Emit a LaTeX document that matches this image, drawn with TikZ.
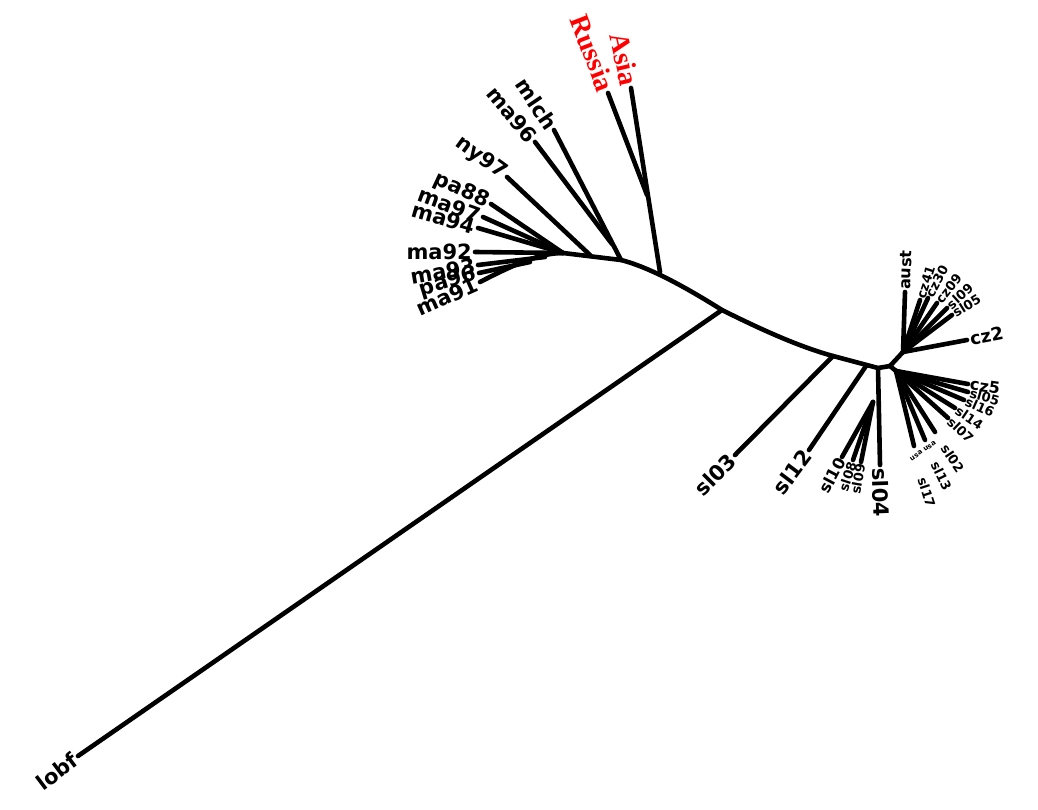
\documentclass[tikz,border=0pt]{standalone}
\usepackage{fontspec}
\usetikzlibrary{calc}
\newfontfamily\labfont{DejaVu Sans}
\newfontfamily\redfont{Liberation Serif}
\begin{document}
\begin{tikzpicture}[x=1pt,y=-1pt,
  br/.style={line width=4.6pt,line cap=round,line join=round},
  lab/.style={font=\labfont\bfseries\fontsize{21}{21}\selectfont, inner sep=3pt},
  mlab/.style={font=\labfont\bfseries\fontsize{16}{16}\selectfont, inner sep=2pt},
  slab/.style={font=\labfont\bfseries\fontsize{13}{13}\selectfont, inner sep=2pt},
  tlab/.style={font=\labfont\bfseries\fontsize{7}{7}\selectfont, inner sep=1pt},
  rlab/.style={font=\redfont\bfseries\fontsize{28}{28}\selectfont, text=red, inner sep=3pt}]
\useasboundingbox (0,0) rectangle (1038,810);

% internal nodes
\coordinate (nL) at (563,253);
\coordinate (nNY) at (590,255);
\coordinate (nMM) at (612,244);
\coordinate (nM) at (621,260);
\coordinate (nRA) at (647,195);
\coordinate (nA) at (660,272);
\coordinate (nLo) at (722,310);
\coordinate (nS3) at (833,356);
\coordinate (nS12) at (866,366);
\coordinate (nR0) at (878,368);
\coordinate (nS) at (873,402);
\coordinate (nJ) at (890,366);
\coordinate (nU) at (903,352);
\coordinate (nD) at (896,371);

% leaves
\coordinate (lma92) at (475,252);
\coordinate (lma94) at (478,228);
\coordinate (lma97) at (483,217);
\coordinate (lpa88) at (491,204);
\coordinate (lny97) at (507,177);
\coordinate (lma96) at (535,142);
\coordinate (lmlch) at (554,130);
\coordinate (lma93) at (478,265);
\coordinate (lpa96) at (479,273);
\coordinate (lma91) at (480,282);
\coordinate (lrus) at (608,93);
\coordinate (lasia) at (631,88);
\coordinate (llobf) at (78,756);
\coordinate (lsl03) at (735,455);
\coordinate (lsl12) at (809,450);
\coordinate (lsl10) at (842,457);
\coordinate (lsl08) at (853,460);
\coordinate (lsl09) at (861,462);
\coordinate (lsl04) at (880,465);
\coordinate (laust) at (905,292);
\coordinate (f1) at (920,300);
\coordinate (f2) at (928,298);
\coordinate (f3) at (937,303);
\coordinate (f4) at (947,308);
\coordinate (f5) at (952,315);
\coordinate (lcz2) at (967,340);
\coordinate (e1) at (968,384);
\coordinate (e2) at (968,392);
\coordinate (e3) at (964,400);
\coordinate (e4) at (955,408);
\coordinate (e5) at (948,418);
\coordinate (e6) at (935,432);
\coordinate (e7) at (925,440);
\coordinate (e8) at (914,446);

% spine
\draw[br] (lma91) .. controls (515,264) and (540,253) .. (nL) -- (nM)
  .. controls (652,268) and (690,290) .. (nLo)
  .. controls (762,330) and (800,347) .. (nS3) -- (nR0) -- (nJ);

% left branches
\foreach \l in {lma92,lma94,lma97,lpa88} \draw[br] (\l) -- (nL);
\draw[br] (lma93) -- (545,257);
\draw[br] (lpa96) -- (530,262);
\draw[br] (lny97) -- (nNY);
\draw[br] (lma96) -- (nMM);
\draw[br] (lmlch) -- (nM);
\draw[br] (lrus) -- (nRA);
\draw[br] (lasia) -- (nA);
\draw[br] (llobf) -- (nLo);

% right branches
\draw[br] (lsl03) -- (nS3);
\draw[br] (lsl12) -- (nS12);
\draw[br] (lsl04) -- (nR0);
\foreach \l in {lsl10,lsl08,lsl09} \draw[br] (\l) -- (nS);
\draw[br] (nJ) -- (nU);
\draw[br] (nJ) -- (nD);
\foreach \l in {laust,f1,f2,f3,f4,f5,lcz2} \draw[br] (\l) -- (nU);
\foreach \l in {e1,e2,e3,e4,e5,e6,e7,e8} \draw[br] (\l) -- (nD);

% labels left
\node[lab,anchor=east,rotate=0] (tma92) at (lma92) {ma92};
\node[lab,anchor=east,rotate=-16] (tma94) at (lma94) {ma94};
\node[lab,anchor=east,rotate=-20] (tma97) at (lma97) {ma97};
\node[lab,anchor=east,rotate=-25] (tpa88) at (lpa88) {pa88};
\node[lab,anchor=east,rotate=-36] (tny97) at (lny97) {ny97};
\node[lab,anchor=east,rotate=-50] (tma96) at (lma96) {ma96};
\node[lab,anchor=east,rotate=-56] (tmlch) at (lmlch) {mlch};
\node[lab,anchor=east,rotate=10] (tma93) at (lma93) {ma93};
\node[lab,anchor=east,rotate=17] (tpa96) at (lpa96) {pa96};
\node[lab,anchor=east,rotate=24] (tma91) at (lma91) {ma91};
\node[rlab,anchor=east,rotate=-69] (trus) at (lrus) {Russia};
\node[rlab,anchor=east,rotate=-77] (tasia) at (lasia) {Asia};
\node[lab,anchor=east,rotate=37] (tlobf) at (llobf) {lobf};

% labels right
\node[lab,anchor=east,rotate=45] (tsl03) at (lsl03) {sl03};
\node[lab,anchor=east,rotate=53] (tsl12) at (lsl12) {sl12};
\node[mlab,anchor=east,rotate=62] (tsl10) at (lsl10) {sl10};
\node[slab,anchor=east,rotate=72] (tsl08) at (lsl08) {sl08};
\node[slab,anchor=east,rotate=80] (tsl09) at (lsl09) {sl09};
\node[lab,anchor=west,rotate=-88] (tsl04) at (lsl04) {sl04};
\node[mlab,anchor=west,rotate=88] (taust) at (laust) {aust};
\node[slab,anchor=west,rotate=72] (tf1) at (f1) {cz41};
\node[slab,anchor=west,rotate=62] (tf2) at (f2) {cz30};
\node[slab,anchor=west,rotate=52] (tf3) at (f3) {cz09};
\node[slab,anchor=west,rotate=42] (tf4) at (f4) {sl09};
\node[slab,anchor=west,rotate=32] (tf5) at (f5) {sl05};
\node[lab,anchor=west,rotate=11,font=\labfont\bfseries\fontsize{18}{18}\selectfont] (tcz2) at (lcz2) {cz2};
\node[mlab,anchor=west,rotate=-8] (te1) at (e1) {cz5};
\node[slab,anchor=west,rotate=-16] (te2) at (e2) {sl05};
\node[slab,anchor=west,rotate=-24] (te3) at (e3) {sl16};
\node[slab,anchor=west,rotate=-34] (te4) at (e4) {sl14};
\node[slab,anchor=west,rotate=-44] (te5) at (e5) {sl07};
\node[slab,anchor=west,rotate=-56] (te6) at ($(nD)!1.2!(e6)$) {sl02};
\node[slab,anchor=west,rotate=-64] (te7) at ($(nD)!1.3!(e7)$) {sl13};
\node[slab,anchor=west,rotate=-72] (te8) at ($(nD)!1.4!(e8)$) {sl17};
\node[tlab,rotate=35] (tusa) at (923,451) {usa usa};
\end{tikzpicture}
\end{document}
